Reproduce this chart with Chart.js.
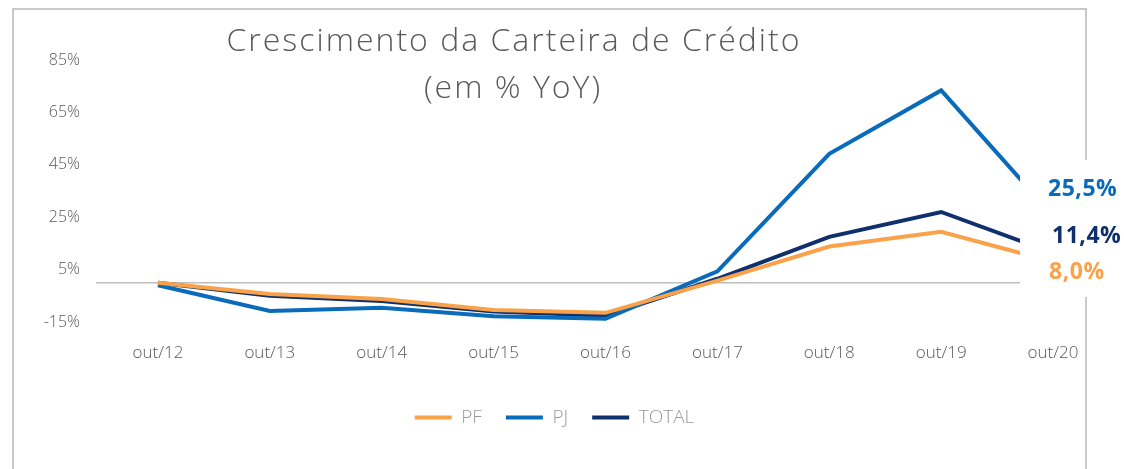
<!DOCTYPE html>
<html>
<head>
<meta charset="utf-8">
<script src="https://cdn.jsdelivr.net/npm/chart.js@4.4.1/dist/chart.umd.min.js"></script>
<style>
  html, body { margin: 0; padding: 0; background: #fff; }
  #wrap { width: 1124px; height: 469px; position: relative; }
</style>
</head>
<body>
<div id="wrap"><canvas id="myChart" width="1124" height="469"></canvas></div>
<script>
var categories = ["out/12", "out/13", "out/14", "out/15", "out/16", "out/17", "out/18", "out/19", "out/20"];
var pfValues = [0, -4.3, -6.2, -10.4, -11.5, 0.8, 13.8, 19.4, 8.0];
var pjValues = [-1, -10.8, -9.6, -12.8, -13.8, 4.3, 49.2, 73.4, 25.5];
var totalValues = [0, -5.0, -7.0, -11.0, -12.6, 1.5, 17.5, 27.0, 11.4];
var endLabels = { PF: "8,0%", PJ: "25,5%", TOTAL: "11,4%" };
var titleLines = ["Crescimento da Carteira de Crédito", "(em % YoY)"];

var COLOR = {
	PF: "#f9a24a",
	PJ: "#0b6bbb",
	TOTAL: "#0f2f6d",
	TEXT: "#595959",
	LEGEND: "#9a9a9a",
	FRAME: "#c9c9c9",
	ZERO: "#bdbdbd"
};

var FONT = "'Open Sans', 'Lato', sans-serif";

// frame, zero line, title and the boxed end labels
var decor = {
	id: "decor",
	beforeDraw: function (chart) {
		var c = chart.ctx;
		c.save();
		c.strokeStyle = COLOR.FRAME;
		c.lineWidth = 2;
		c.strokeRect(13, 9, 1073, 500);
		c.restore();
	},
	beforeDatasetsDraw: function (chart) {
		var c = chart.ctx, a = chart.chartArea;
		var y0 = chart.scales.y.getPixelForValue(0);
		c.save();
		c.strokeStyle = COLOR.ZERO;
		c.lineWidth = 1.5;
		c.beginPath();
		c.moveTo(a.left - 6, y0);
		c.lineTo(a.right, y0);
		c.stroke();
		c.restore();
	},
	afterDatasetsDraw: function (chart) {
		var c = chart.ctx;
		var xEnd = chart.scales.x.getPixelForValue(categories.length - 1);
		c.save();
		// white label box hides the line ends
		c.fillStyle = "#fff";
		c.fillRect(xEnd - 33, 160, 200, 137);

		c.font = "bold 23px " + FONT;
		c.letterSpacing = "0.5px";
		c.textBaseline = "middle";
		c.textAlign = "left";
		c.fillStyle = COLOR.PJ;
		c.fillText(endLabels.PJ, xEnd - 5, 189);
		c.fillStyle = COLOR.TOTAL;
		c.fillText(endLabels.TOTAL, xEnd - 1, 236);
		c.fillStyle = COLOR.PF;
		c.fillText(endLabels.PF, xEnd - 4, 272);

		// title
		c.fillStyle = COLOR.TEXT;
		c.textAlign = "center";
		c.font = "300 32px " + FONT;
		c.letterSpacing = "2px";
		c.fillText(titleLines[0], 514, 42);
		c.fillText(titleLines[1], 513, 89);
		c.restore();
	}
};

function makeSet(label, values, color) {
	return {
		label: label,
		data: values,
		borderColor: color,
		backgroundColor: color,
		borderWidth: 4,
		fill: false,
		lineTension: 0,
		pointRadius: 0,
		pointHoverRadius: 0,
		borderJoinStyle: "miter",
		borderCapStyle: "butt"
	};
}

var data = {
	labels: categories,
	datasets: [
		makeSet("PF", pfValues, COLOR.PF),
		makeSet("PJ", pjValues, COLOR.PJ),
		makeSet("TOTAL", totalValues, COLOR.TOTAL)
	]
};

var options = {
	responsive: false,
	animation: false,
	layout: { padding: { left: 0, right: 15, top: 60, bottom: 32 } },
	plugins: {
		title: { display: false },
		tooltip: { enabled: false },
		legend: {
			display: true,
			position: "bottom",
			labels: {
				boxWidth: 37,
				boxHeight: 4,
				padding: 24,
				color: COLOR.LEGEND,
				font: { family: FONT, size: 19, weight: "300" },
				generateLabels: function (chart) {
					return chart.data.datasets.map(function (ds, i) {
						return {
							text: ds.label,
							fillStyle: ds.borderColor,
							strokeStyle: ds.borderColor,
							lineWidth: 0,
							fontColor: COLOR.LEGEND,
							datasetIndex: i
						};
					});
				}
			}
		}
	},
	scales: {
		x: {
			offset: true,
			grid: { display: false, drawTicks: false },
			border: { display: false },
			ticks: { color: COLOR.TEXT, padding: 21, font: { family: FONT, size: 17, weight: "300" }, maxRotation: 0 },
			afterFit: function (s) { s.height = 62; }
		},
		y: {
			min: -15,
			max: 85,
			grid: { display: false, drawTicks: false },
			border: { display: false },
			ticks: {
				stepSize: 20,
				padding: 22,
				color: COLOR.TEXT,
				font: { family: FONT, size: 16, weight: "300" },
				callback: function (v) { return v + "%"; }
			},
			afterFit: function (s) { s.width = 102; }
		}
	}
};

var myLineChart = new Chart(document.getElementById("myChart"), {
	type: "line",
	data: data,
	options: options,
	plugins: [decor]
});
</script>
</body>
</html>
